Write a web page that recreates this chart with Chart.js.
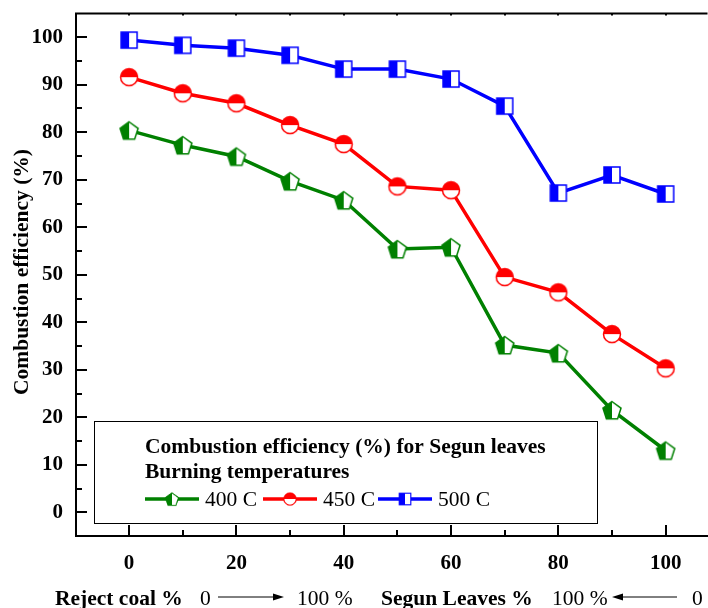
<!DOCTYPE html>
<html>
<head>
<meta charset="utf-8">
<script src="https://cdn.jsdelivr.net/npm/chart.js@4.4.0/dist/chart.umd.min.js"></script>
<style>
  html, body { margin: 0; padding: 0; background: #fff; overflow: hidden; }
  #wrap { width: 721px; height: 608px; }
</style>
</head>
<body>
<div id="wrap"><canvas id="effChart" width="721" height="608"></canvas></div>
<script>
// data
const mixRatio = [0, 10, 20, 30, 40, 50, 60, 70, 80, 90, 100];
const temp400 = [80.4, 77.3, 74.9, 69.7, 65.7, 55.4, 55.8, 35.2, 33.5, 21.5, 13.0];
const temp450 = [91.6, 88.2, 86.1, 81.5, 77.5, 68.6, 67.8, 49.5, 46.3, 37.5, 30.3];
const temp500 = [99.4, 98.3, 97.7, 96.2, 93.3, 93.3, 91.2, 85.5, 67.2, 71.0, 67.0];
const seriesNames = ["400 C", "450 C", "500 C"];
const xTickLabels = [0, 20, 40, 60, 80, 100];
const yTickLabels = [0, 10, 20, 30, 40, 50, 60, 70, 80, 90, 100];

const GREEN = "#008000", RED = "#ff0000", BLUE = "#0000ff";
const SERIF = "'Liberation Serif', 'Times New Roman', serif";

// half filled marker images
function makeMarker(kind, color) {
  const s = 22;
  const c = document.createElement("canvas");
  c.width = s; c.height = s;
  const g = c.getContext("2d");
  const cx = s / 2, cy = s / 2;
  function path() {
    g.beginPath();
    if (kind === "square") {
      g.rect(cx - 8, cy - 8, 16, 16);
    } else if (kind === "circle") {
      g.arc(cx, cy, 8.5, 0, Math.PI * 2);
    } else {
      const r = 9.5;
      for (let i = 0; i < 5; i++) {
        const a = -Math.PI / 2 + i * 2 * Math.PI / 5;
        const px = cx + r * Math.cos(a), py = cy + 1 + r * Math.sin(a);
        if (i === 0) g.moveTo(px, py); else g.lineTo(px, py);
      }
      g.closePath();
    }
  }
  path();
  g.fillStyle = "#fff";
  g.fill();
  g.save();
  g.beginPath();
  if (kind === "circle") g.rect(0, 0, s, cy); else g.rect(0, 0, cx, s);
  g.clip();
  path();
  g.fillStyle = color;
  g.fill();
  g.restore();
  path();
  g.lineWidth = 1.5;
  g.strokeStyle = color;
  g.stroke();
  return c;
}

const markers = [
  makeMarker("pentagon", GREEN),
  makeMarker("circle", RED),
  makeMarker("square", BLUE)
];

function pts(vals) {
  return mixRatio.map((x, i) => ({ x: x, y: vals[i] }));
}

// inward ticks, frame, titles and the boxed legend
const decorPlugin = {
  id: "decor",
  afterDraw(chart) {
    const ctx = chart.ctx;
    const xs = chart.scales.x, ys = chart.scales.y;
    const a = chart.chartArea;
    ctx.save();
    ctx.strokeStyle = "#000";
    ctx.lineWidth = 2;
    // top frame line
    ctx.beginPath();
    ctx.moveTo(a.left - 1, a.top);
    ctx.lineTo(a.right, a.top);
    ctx.stroke();
    // x ticks
    for (let v = 0; v <= 100; v += 10) {
      const px = Math.round(xs.getPixelForValue(v));
      const len = v % 20 === 0 ? 11 : 6;
      ctx.beginPath();
      ctx.moveTo(px, a.bottom);
      ctx.lineTo(px, a.bottom - len);
      ctx.moveTo(px, a.top);
      ctx.lineTo(px, a.top + 2);
      ctx.stroke();
    }
    // y ticks
    for (let v = 0; v <= 100; v += 5) {
      const py = Math.round(ys.getPixelForValue(v));
      const len = v % 10 === 0 ? 11 : 6;
      ctx.beginPath();
      ctx.moveTo(a.left, py);
      ctx.lineTo(a.left + len, py);
      ctx.stroke();
    }
    // y title
    ctx.fillStyle = "#000";
    ctx.font = "bold 21.5px " + SERIF;
    ctx.textAlign = "center";
    ctx.textBaseline = "middle";
    ctx.save();
    ctx.translate(22, 272);
    ctx.rotate(-Math.PI / 2);
    ctx.fillText("Combustion efficiency (%)", 0, 0);
    ctx.restore();

    // bottom line of text with arrows
    ctx.textAlign = "left";
    ctx.textBaseline = "alphabetic";
    const by = 604.5, ay = 597;
    ctx.font = "bold 21.5px " + SERIF;
    ctx.fillText("Reject coal %", 55, by);
    ctx.fillText("Segun Leaves %", 381, by);
    ctx.font = "21.5px " + SERIF;
    ctx.fillText("0", 200, by);
    ctx.fillText("100 %", 297, by);
    ctx.fillText("100 %", 552, by);
    ctx.fillText("0", 692, by);
    ctx.lineWidth = 1;
    ctx.beginPath();
    ctx.moveTo(218, ay); ctx.lineTo(276, ay);
    ctx.moveTo(620, ay); ctx.lineTo(677, ay);
    ctx.stroke();
    ctx.beginPath();
    ctx.moveTo(284, ay); ctx.lineTo(273, ay - 3.5); ctx.lineTo(273, ay + 3.5); ctx.closePath();
    ctx.moveTo(612, ay); ctx.lineTo(623, ay - 3.5); ctx.lineTo(623, ay + 3.5); ctx.closePath();
    ctx.fill();

    // legend box
    ctx.fillStyle = "#fff";
    ctx.fillRect(94, 421, 503, 102);
    ctx.strokeStyle = "#000";
    ctx.lineWidth = 1;
    ctx.strokeRect(94.5, 421.5, 503, 102);
    ctx.fillStyle = "#000";
    ctx.font = "bold 21.5px " + SERIF;
    ctx.fillText("Combustion efficiency (%) for Segun leaves", 145, 452.5);
    ctx.fillText("Burning temperatures", 145, 477.5);
    const colors = [GREEN, RED, BLUE];
    const starts = [145, 263, 378];
    ctx.font = "21.5px " + SERIF;
    for (let i = 0; i < 3; i++) {
      const x0 = starts[i], ly = 499;
      ctx.strokeStyle = colors[i];
      ctx.lineWidth = 3.5;
      ctx.beginPath();
      ctx.moveTo(x0, ly);
      ctx.lineTo(x0 + 54, ly);
      ctx.stroke();
      const m = markers[i];
      const mw = m.width * 0.72, mh = m.height * 0.72;
      ctx.drawImage(m, x0 + 27 - mw / 2, ly - mh / 2, mw, mh);
      ctx.fillStyle = "#000";
      ctx.fillText(seriesNames[i], x0 + 60, ly + 7);
    }
    ctx.restore();
  }
};

const ctx = document.getElementById("effChart").getContext("2d");
new Chart(ctx, {
  type: "line",
  data: {
    datasets: [temp400, temp450, temp500].map((vals, i) => ({
      label: seriesNames[i],
      data: pts(vals),
      borderColor: [GREEN, RED, BLUE][i],
      borderWidth: 3.5,
      pointStyle: markers[i],
      pointRadius: 10,
      tension: 0,
      fill: false
    }))
  },
  options: {
    responsive: false,
    animation: false,
    events: [],
    layout: { padding: { top: 13, right: 0, left: 0, bottom: 0 } },
    plugins: { legend: { display: false }, tooltip: { enabled: false } },
    scales: {
      x: {
        type: "linear",
        min: -9.9,
        max: 107.8,
        afterBuildTicks: s => { s.ticks = xTickLabels.map(v => ({ value: v })); },
        afterFit: s => { s.height = 72; s.paddingLeft = 0; s.paddingRight = 0; },
        grid: { display: false, drawTicks: false },
        border: { display: true, color: "#000", width: 2 },
        ticks: { color: "#000", padding: 15, font: { family: SERIF, size: 21, weight: "bold" } }
      },
      y: {
        min: -5,
        max: 105,
        afterBuildTicks: s => { s.ticks = yTickLabels.map(v => ({ value: v })); },
        afterFit: s => { s.width = 76; s.paddingTop = 0; s.paddingBottom = 0; },
        grid: { display: false, drawTicks: false },
        border: { display: true, color: "#000", width: 2 },
        ticks: { color: "#000", padding: 13, font: { family: SERIF, size: 21, weight: "bold" } }
      }
    }
  },
  plugins: [decorPlugin]
});
</script>
</body>
</html>
